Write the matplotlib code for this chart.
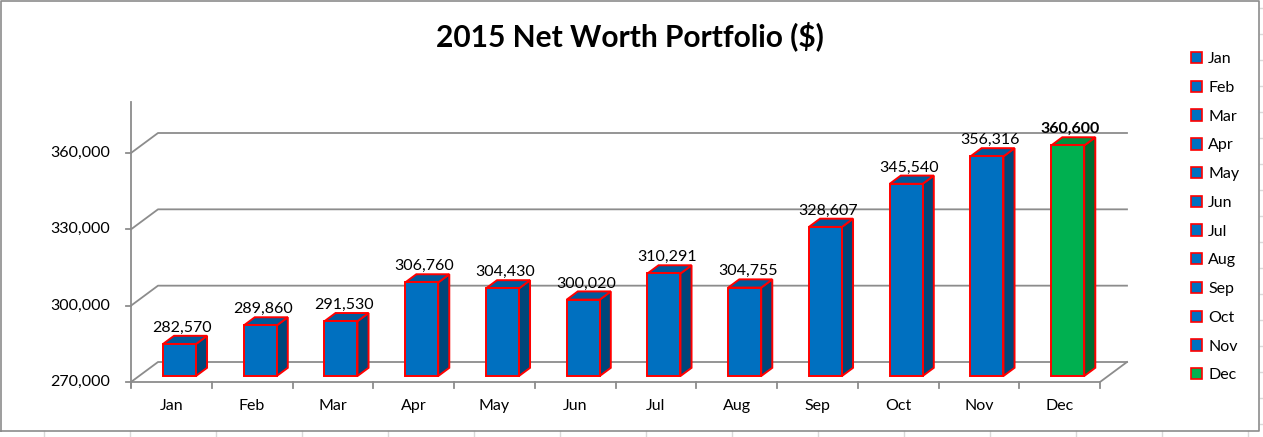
import matplotlib.pyplot as plt
from matplotlib.patches import Polygon, Patch

# chart values
months = ['Jan', 'Feb', 'Mar', 'Apr', 'May', 'Jun',
          'Jul', 'Aug', 'Sep', 'Oct', 'Nov', 'Dec']
net_worth = [282570, 289860, 291530, 306760, 304430, 300020,
             310291, 304755, 328607, 345540, 356316, 360600]
y_ticks = [270000, 300000, 330000, 360000]
y_min, y_max = 270000, 380000
title = '2015 Net Worth Portfolio ($)'

# pixel layout of the fake 3D frame (figure is 1263x437 at 100 dpi)
W, H = 1263, 437
PX_X0 = 131            # pixel of left axis
CAT_PX = 80.75         # pixels per category
PX_BASE = 382          # pixel row of 270,000 on the front plane
PX_PER_VAL = 229 / 90000

DX = 27 / CAT_PX       # full depth shift (x, data units)
DY = 20 / PX_PER_VAL   # full depth shift (y, data units)
F0, F1 = 0.30, 0.71    # bar front / back depth fractions
BAR_W = 33 / CAT_PX

FONT = 'Lato'
FS = 11.5
GRID = '#8c8c8c'
plt.rcParams['font.family'] = [FONT, 'DejaVu Sans']

fig = plt.figure(figsize=(W / 100, H / 100), dpi=100)
ax = fig.add_axes([0, 0, 1, 1])
ax.set_xlim(-0.5 - PX_X0 / CAT_PX, -0.5 + (W - PX_X0) / CAT_PX)
ax.set_ylim(y_min - (H - PX_BASE) / PX_PER_VAL, y_min + PX_BASE / PX_PER_VAL)
ax.axis('off')

px = 1 / CAT_PX        # one pixel in x data units
py = 1 / PX_PER_VAL    # one pixel in y data units
x_left, x_right = -0.5, len(months) - 0.5
x_org = ax.get_xlim()[0]

# excel cell grid showing outside the chart area
for gx in range(44, W, 86):
    ax.plot([x_org + gx * px] * 2,
            [y_min - (H - PX_BASE) * py, y_min - (431 - PX_BASE) * py],
            color='#d9d9d9', lw=1)
for gy in range(8, H, 26):
    yy = y_min + (PX_BASE - gy) * py
    ax.plot([x_org + 1260 * px, ax.get_xlim()[1]], [yy, yy],
            color='#d9d9d9', lw=1)

# chart area border
bx0, bx1 = x_org + 1 * px, x_org + 1259 * px
by0, by1 = y_min - (431 - PX_BASE) * py, y_min + (PX_BASE - 1) * py
ax.plot([bx0, bx1, bx1, bx0, bx0], [by0, by0, by1, by1, by0],
        color='#8c8c8c', lw=1.2)

# back wall gridlines + side wall diagonals
for t in y_ticks:
    ax.plot([x_left, x_left + DX, x_right + DX], [t, t + DY, t + DY],
            color=GRID, lw=1.3)
    ax.plot([x_left - 5 * px, x_left], [t, t], color=GRID, lw=1.3)
    ax.text(x_left - 21 * px, t, f'{t:,}', ha='right', va='center',
            fontsize=FS)

# floor front edge and right edge
ax.plot([x_left, x_right, x_right + DX], [y_min, y_min, y_min + DY],
        color=GRID, lw=1.3)
# vertical axis
ax.plot([x_left, x_left], [y_min - 5 * py, y_max], color=GRID, lw=1.3)
# category ticks
for i in range(len(months) + 1):
    ax.plot([i - 0.5, i - 0.5], [y_min, y_min - 6 * py], color=GRID, lw=1.3)
for i, m in enumerate(months):
    ax.text(i, y_min - 24 * py, m, ha='center', va='center', fontsize=FS)

# bars
front_cols = ['#0070c0'] * 11 + ['#00b050']
side_cols = ['#00467a'] * 11 + ['#006d30']
top_cols = ['#005a9c'] * 11 + ['#00913e']
xs = [i - BAR_W / 2 + F0 * DX for i in range(len(months))]
heights = [v - y_min for v in net_worth]
ax.bar(xs, heights, width=BAR_W, bottom=y_min + F0 * DY, align='edge',
       color=front_cols, edgecolor='red', linewidth=1.4, zorder=3)
d_x, d_y = (F1 - F0) * DX, (F1 - F0) * DY
for i, v in enumerate(net_worth):
    x0 = xs[i]
    x1 = x0 + BAR_W
    yb = y_min + F0 * DY
    yt = v + F0 * DY
    side = [(x1, yb), (x1 + d_x, yb + d_y), (x1 + d_x, yt + d_y), (x1, yt)]
    top = [(x0, yt), (x1, yt), (x1 + d_x, yt + d_y), (x0 + d_x, yt + d_y)]
    ax.add_patch(Polygon(side, closed=True, facecolor=side_cols[i],
                         edgecolor='red', lw=1.4, zorder=2))
    ax.add_patch(Polygon(top, closed=True, facecolor=top_cols[i],
                         edgecolor='red', lw=1.4, zorder=2))
    ax.text(i + 0.136, v + F1 * DY + 4 * py, f'{v:,}', ha='center',
            va='baseline', fontsize=FS,
            fontweight='bold' if i == len(months) - 1 else 'normal',
            zorder=4)

ax.text(x_org + 630 * px, y_min + (PX_BASE - 36) * py, title,
        ha='center', va='center', fontsize=21.5, fontweight='bold')

handles = [Patch(facecolor=c, edgecolor='red', lw=1.2) for c in front_cols]
fig.legend(handles, months, loc='upper left',
           bbox_to_anchor=(1183 / W, 1 - 44 / H), frameon=False,
           handlelength=0.72, handleheight=0.72, handletextpad=0.35,
           labelspacing=0.905, fontsize=FS, borderpad=0)

fig.savefig('out.png', dpi=100)
